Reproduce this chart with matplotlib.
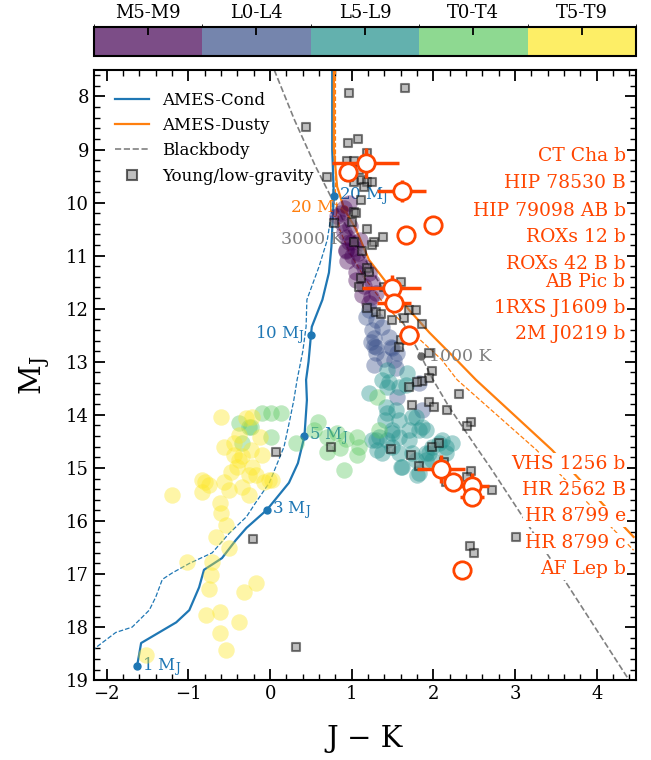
import numpy as np
import matplotlib
matplotlib.use('Agg')
import matplotlib.pyplot as plt
from matplotlib.colors import ListedColormap, BoundaryNorm
from matplotlib.cm import ScalarMappable
from matplotlib.lines import Line2D
from matplotlib.ticker import AutoMinorLocator
import matplotlib.transforms as mtransforms

plt.rcParams['font.family'] = 'DejaVu Serif'
plt.rcParams['mathtext.fontset'] = 'dejavuserif'

sptypes = ['M5-M9', 'L0-L4', 'L5-L9', 'T0-T4', 'T5-T9']

# field dwarfs, one (J-K, M_J) list per spectral-type bin
m_jk = [0.87, 0.88, 0.91, 0.94, 0.97, 1.03, 0.93, 1.07, 0.94, 1.09, 1.15, 1.05, 1.21, 1.05, 1.25,
        1.15, 1.13, 1.24, 1.21, 1.30, 0.97, 0.82, 1.00, 0.93, 1.00, 0.90, 1.10, 0.98]
m_mj = [10.19, 10.38, 10.55, 10.64, 10.75, 10.85, 10.89, 10.95, 11.11, 11.11, 11.21, 11.30, 11.32, 11.45, 11.49,
        11.58, 11.74, 11.77, 11.89, 11.70, 10.00, 10.26, 10.75, 10.92, 11.00, 10.10, 10.70, 10.45]

l0_jk = [1.21, 1.30, 1.25, 1.37, 1.27, 1.46, 1.30, 1.48, 1.27, 1.29, 1.55, 1.27, 1.54, 1.55, 1.86,
         1.82, 1.17, 1.40, 1.23, 1.49, 1.52]
l0_mj = [12.02, 12.21, 12.40, 12.34, 12.55, 12.53, 12.72, 12.72, 12.71, 12.83, 12.83, 13.06, 13.11, 13.66, 13.90,
         13.40, 12.15, 12.95, 12.62, 12.74, 12.97]

l5_jk = [1.43, 1.37, 1.46, 1.68, 1.66, 1.21, 1.43, 1.54, 1.43, 1.58, 1.41, 1.79, 1.49, 1.33, 1.25,
         1.43, 1.58, 1.70, 1.82, 1.91, 1.31, 1.49, 1.58, 1.74, 1.91, 1.98, 2.11, 2.23, 1.91, 1.62,
         1.80, 1.98, 2.15, 1.58, 1.42, 1.74, 1.86, 1.70, 1.49, 2.07, 1.95, 1.79, 1.60, 1.82, 1.37,
         1.30, 2.15]
l5_mj = [13.15, 13.34, 13.38, 13.21, 13.43, 13.59, 13.47, 13.90, 13.96, 14.09, 14.09, 14.04, 14.28, 14.42, 14.47,
         14.47, 14.42, 14.47, 14.28, 14.28, 14.66, 14.60, 14.72, 14.72, 14.72, 14.60, 14.47, 14.53, 14.85, 14.98,
         15.13, 14.85, 14.72, 13.47, 13.85, 14.04, 14.23, 14.28, 14.34, 14.53, 14.72, 14.85, 14.98, 15.09, 14.72,
         14.47, 14.60]

t0_jk = [-0.38, -0.10, 0.01, 0.13, -0.23, -0.34, 0.01, 0.58, 0.54, 0.70, 0.82, 0.93, 1.06, 1.09, 0.32,
         0.70, 0.85, 1.06, 0.91, 1.31, 1.33, -0.26]
t0_mj = [14.15, 13.96, 13.96, 13.96, 14.22, 14.53, 14.42, 14.13, 14.28, 14.42, 14.34, 14.45, 14.42, 14.60, 14.53,
         14.70, 14.62, 14.75, 15.04, 13.66, 14.28, 14.22]

t5_jk = [-0.60, -0.30, -0.22, -0.38, -0.13, -0.56, -0.44, -0.23, -0.44, -0.35, -0.10, -0.38, -0.40, -0.22, -0.48,
         -0.26, -0.17, -0.07, 0.02, -0.83, -0.80, -0.75, -0.56, -0.50, -0.83, -0.35, -0.26, -1.20, -0.62, -0.60,
         -0.54, -0.66, -0.50, -1.02, -0.71, -0.72, -0.75, -0.32, -0.17, -0.78, -0.62, -0.38, -0.62, -0.54, -1.52,
         -0.01]
t5_mj = [14.04, 14.06, 14.04, 14.38, 14.42, 14.60, 14.53, 14.66, 14.75, 14.77, 14.75, 14.85, 14.98, 14.98, 15.08,
         15.13, 15.13, 15.26, 15.23, 15.23, 15.26, 15.32, 15.26, 15.42, 15.45, 15.36, 15.51, 15.51, 15.66, 15.85,
         16.08, 16.30, 16.51, 16.77, 16.77, 17.02, 17.28, 17.34, 17.17, 17.77, 17.72, 17.91, 18.11, 18.43, 18.53,
         15.23]

field_jk = [m_jk, l0_jk, l5_jk, t0_jk, t5_jk]
field_mj = [m_mj, l0_mj, l5_mj, t0_mj, t5_mj]

# young / low-gravity objects
young_jk = [0.97, 1.65, 0.44, 0.95, 1.08, 1.19, 0.94, 1.03, 1.09, 0.69, 1.11, 1.19, 1.25, 1.03, 1.15,
            0.97, 1.03, 1.11, 1.05, 1.00, 0.78, 1.19, 1.38, 1.27, 1.25, 1.03, 1.13, 1.19, 1.21, 1.11,
            1.09, 1.40, 1.60, 1.19, 1.30, 1.36, 1.49, 1.64, 1.70, 1.79, 1.86, 1.60, 1.58, 1.95, 1.98,
            1.95, 1.86, 1.80, 1.70, 2.31, 1.95, 2.01, 1.74, 2.17, 2.46, 2.41, 0.75, 1.48, 1.73, 1.98,
            2.07, 1.82, 2.13, 2.46, 2.41, 2.15, 2.72, 3.01, 2.45, 2.50, 0.07, -0.21, 0.32]
young_mj = [7.94, 7.85, 8.57, 8.87, 8.81, 9.06, 9.21, 9.21, 9.38, 9.51, 9.57, 9.62, 9.62, 9.62, 9.70,
            9.51, 10.17, 9.96, 10.19, 10.36, 10.38, 10.50, 10.64, 10.75, 10.79, 10.74, 10.92, 11.23, 11.30, 11.42,
            11.60, 11.60, 11.49, 11.98, 12.06, 12.09, 12.21, 12.17, 12.02, 12.02, 12.28, 12.58, 12.72, 12.83, 13.17,
            13.30, 13.36, 13.38, 13.47, 13.60, 13.75, 13.85, 13.81, 13.91, 14.13, 14.21, 14.60, 14.64, 14.75, 14.60,
            14.53, 14.96, 14.89, 15.06, 15.17, 15.26, 15.42, 16.30, 16.47, 16.60, 14.70, 16.34, 18.38]

# directly imaged companions
comp_names = ['CT Cha b', 'HIP 78530 B', 'HIP 79098 AB b', 'ROXs 12 b', 'ROXs 42 B b', 'AB Pic b',
              '1RXS J1609 b', '2M J0219 b', 'VHS 1256 b', 'HR 2562 B', 'HR 8799 e', 'HR 8799 c', 'AF Lep b']
comp_jk = [1.17, 0.95, 1.61, 2.00, 1.66, 1.49, 1.52, 1.70, 2.09, 2.24, 2.47, 2.47, 2.35]
comp_mj = [9.25, 9.42, 9.78, 10.42, 10.62, 11.61, 11.89, 12.49, 15.02, 15.26, 15.34, 15.55, 16.92]
comp_jk_err = [0.41, 0.0, 0.30, 0.0, 0.0, 0.36, 0.21, 0.12, 0.29, 0.0, 0.21, 0.15, 0.08]
comp_mj_err = [0.28, 0.0, 0.20, 0.0, 0.0, 0.25, 0.13, 0.05, 0.27, 0.0, 0.25, 0.12, 0.05]
label_mj = [9.13, 9.64, 10.15, 10.64, 11.15, 11.49, 11.98, 12.47, 14.92, 15.42, 15.91, 16.42, 16.91]

# evolutionary tracks
cond_jk = [0.76, 0.76, 0.78, 0.75, 0.72, 0.64, 0.51, 0.50, 0.47, 0.44, 0.45, 0.42, 0.34, 0.23, -0.04,
           -0.29, -0.42, -0.59, -0.81, -0.87, -0.99, -1.15, -1.58, -1.63]
cond_mj = [7.5, 9.0, 9.87, 10.83, 11.32, 11.83, 12.34, 12.49, 13.0, 13.34, 13.72, 14.40, 14.91, 15.28, 15.79,
           16.13, 16.36, 16.70, 16.92, 17.25, 17.68, 17.91, 18.30, 18.74]
cond2_jk = [0.77, 0.77, 0.76, 0.70, 0.60, 0.45, 0.44, 0.40, 0.33, 0.29, 0.24, 0.17, 0.07, -0.01, -0.18,
            -0.29, -0.50, -0.71, -0.99, -1.20, -1.32, -1.40, -1.48, -1.69, -1.89, -2.13, -2.30]
cond2_mj = [7.5, 9.8, 10.1, 10.7, 11.2, 11.83, 12.34, 12.8, 13.34, 13.72, 14.1, 14.6, 14.98, 15.28, 15.66,
            15.92, 16.23, 16.6, 16.8, 16.98, 17.1, 17.43, 17.68, 18.0, 18.1, 18.38, 18.6]
dusty_jk = [0.78, 0.78, 0.82, 0.91, 1.05, 1.21, 1.46, 1.70, 1.95, 2.28, 2.52, 3.45, 4.45]
dusty_mj = [7.5, 9.0, 9.7, 10.13, 10.5, 11.08, 11.58, 12.02, 12.45, 12.96, 13.34, 14.66, 16.3]
dusty2_jk = [0.80, 0.80, 0.85, 0.97, 1.17, 1.42, 1.74, 2.10, 2.29, 3.26, 4.45]
dusty2_mj = [7.5, 9.8, 10.5, 10.94, 11.45, 11.96, 12.45, 12.96, 13.34, 14.66, 16.55]
cond_mass = ['20', '10', '5', '3', '1']
cond_mass_jk = [0.78, 0.50, 0.42, -0.04, -1.63]
cond_mass_mj = [9.87, 12.49, 14.40, 15.79, 18.74]
dusty_mass_jk = [0.91]
dusty_mass_mj = [10.13]

# blackbody sequence
bb_jk = [0.05, 0.30, 0.55, 0.78, 1.02, 1.27, 1.52, 1.74, 1.85, 1.98, 2.19, 2.52, 2.70, 3.02, 3.64, 4.37, 4.60]
bb_mj = [7.5, 8.45, 9.3, 10.0, 10.7, 11.35, 11.96, 12.58, 12.9, 13.3, 13.85, 14.6, 15.0, 15.75, 17.2, 18.94, 19.5]
bb_temp = ['3000 K', '1000 K']
bb_temp_jk = [1.02, 1.85]
bb_temp_mj = [10.7, 12.9]

base = plt.get_cmap('viridis', 5)(np.arange(5))

fig = plt.figure(figsize=(6.51, 7.6), dpi=100)
ax = fig.add_axes([0.144, 0.105, 0.833, 0.803])
cax = fig.add_axes([0.144, 0.926, 0.833, 0.038])

# colorbar for spectral type bins
cb_colors = base.copy()
cb_colors[:, 3] = 0.7
norm = BoundaryNorm(np.arange(6), 5)
cb = fig.colorbar(ScalarMappable(norm=norm, cmap=ListedColormap(cb_colors)), cax=cax,
                  orientation='horizontal', ticklocation='top')
cb.set_ticks(np.arange(5) + 0.5, labels=sptypes)
cax.tick_params(direction='in', length=6, width=1.3, labelsize=13, pad=4)
cb.outline.set_linewidth(1.5)

# tracks
ax.plot(cond_jk, cond_mj, color='tab:blue', lw=1.6, zorder=2)
ax.plot(cond2_jk, cond2_mj, color='tab:blue', lw=0.9, ls='--', zorder=2)
ax.plot(dusty_jk, dusty_mj, color='tab:orange', lw=1.6, zorder=2)
ax.plot(dusty2_jk, dusty2_mj, color='tab:orange', lw=0.9, ls='--', zorder=2)
ax.plot(bb_jk, bb_mj, color='gray', lw=1.2, ls='--', zorder=2)
ax.plot(bb_temp_jk, bb_temp_mj, 'o', color='dimgray', ms=5, zorder=2)
ax.text(bb_temp_jk[0] - 0.12, bb_temp_mj[0], bb_temp[0], color='gray', fontsize=12.5,
        ha='right', va='center', zorder=2)
ax.text(bb_temp_jk[1] + 0.1, bb_temp_mj[1], bb_temp[1], color='gray', fontsize=12.5,
        ha='left', va='center', zorder=2)

ax.plot(cond_mass_jk, cond_mass_mj, 'o', color='tab:blue', ms=5, zorder=2)
ax.plot(dusty_mass_jk, dusty_mass_mj, 'o', color='tab:orange', ms=5, zorder=2)
for m, x, y in zip(cond_mass, cond_mass_jk, cond_mass_mj):
    if m == '10':
        ax.text(x - 0.07, y, m + r' M$_\mathrm{J}$', color='tab:blue', fontsize=12,
                ha='right', va='center', zorder=2)
    else:
        ax.text(x + 0.06, y, m + r' M$_\mathrm{J}$', color='tab:blue', fontsize=12,
                ha='left', va='center', zorder=2)
ax.text(dusty_mass_jk[0] - 0.06, dusty_mass_mj[0], r'20 M$_\mathrm{J}$', color='tab:orange',
        fontsize=12, ha='right', va='center', zorder=2)

# field objects
for k in range(5):
    ax.scatter(field_jk[k], field_mj[k], s=140, color=base[k], alpha=0.4, lw=0, zorder=3)

ax.scatter(young_jk, young_mj, marker='s', s=40, facecolor='gray', edgecolor='black',
           lw=1.5, alpha=0.5, zorder=4)

ax.errorbar(comp_jk, comp_mj, xerr=comp_jk_err, yerr=comp_mj_err, fmt='o', ms=12.5,
            mfc='white', mec='orangered', mew=2, ecolor='orangered', elinewidth=2.5,
            capsize=0, zorder=6)

trans = mtransforms.blended_transform_factory(ax.transAxes, ax.transData)
for name, y in zip(comp_names, label_mj):
    ax.text(0.981, y, name, transform=trans, color='orangered', fontsize=13.5, ha='right',
            va='center', zorder=7, bbox=dict(fc='white', ec='none', pad=1.0))

handles = [Line2D([], [], color='tab:blue', lw=1.6),
           Line2D([], [], color='tab:orange', lw=1.6),
           Line2D([], [], color='gray', lw=1.2, ls='--'),
           Line2D([], [], marker='s', ls='none', ms=7, mfc=(0.5, 0.5, 0.5, 0.5),
                  mec=(0, 0, 0, 0.6), mew=1.5)]
ax.legend(handles, ['AMES-Cond', 'AMES-Dusty', 'Blackbody', 'Young/low-gravity'],
          loc='upper left', frameon=False, fontsize=12, borderaxespad=0.9)

ax.set_xlim(-2.16, 4.48)
ax.set_ylim(19, 7.5)
ax.set_yticks(np.arange(8, 20))
ax.set_xticks(np.arange(-2, 5))
ax.xaxis.set_minor_locator(AutoMinorLocator(5))
ax.yaxis.set_minor_locator(AutoMinorLocator(5))
ax.tick_params(which='both', direction='in', top=True, right=True, labelsize=13)
ax.tick_params(which='major', length=8, width=1.3)
ax.tick_params(which='minor', length=4, width=1.0)
for s in ax.spines.values():
    s.set_linewidth(1.5)
ax.set_xlabel('J − K', fontsize=21, labelpad=16)
ax.set_ylabel(r'M$_\mathrm{J}$', fontsize=21, labelpad=10)

fig.savefig('out.png', dpi=100)
